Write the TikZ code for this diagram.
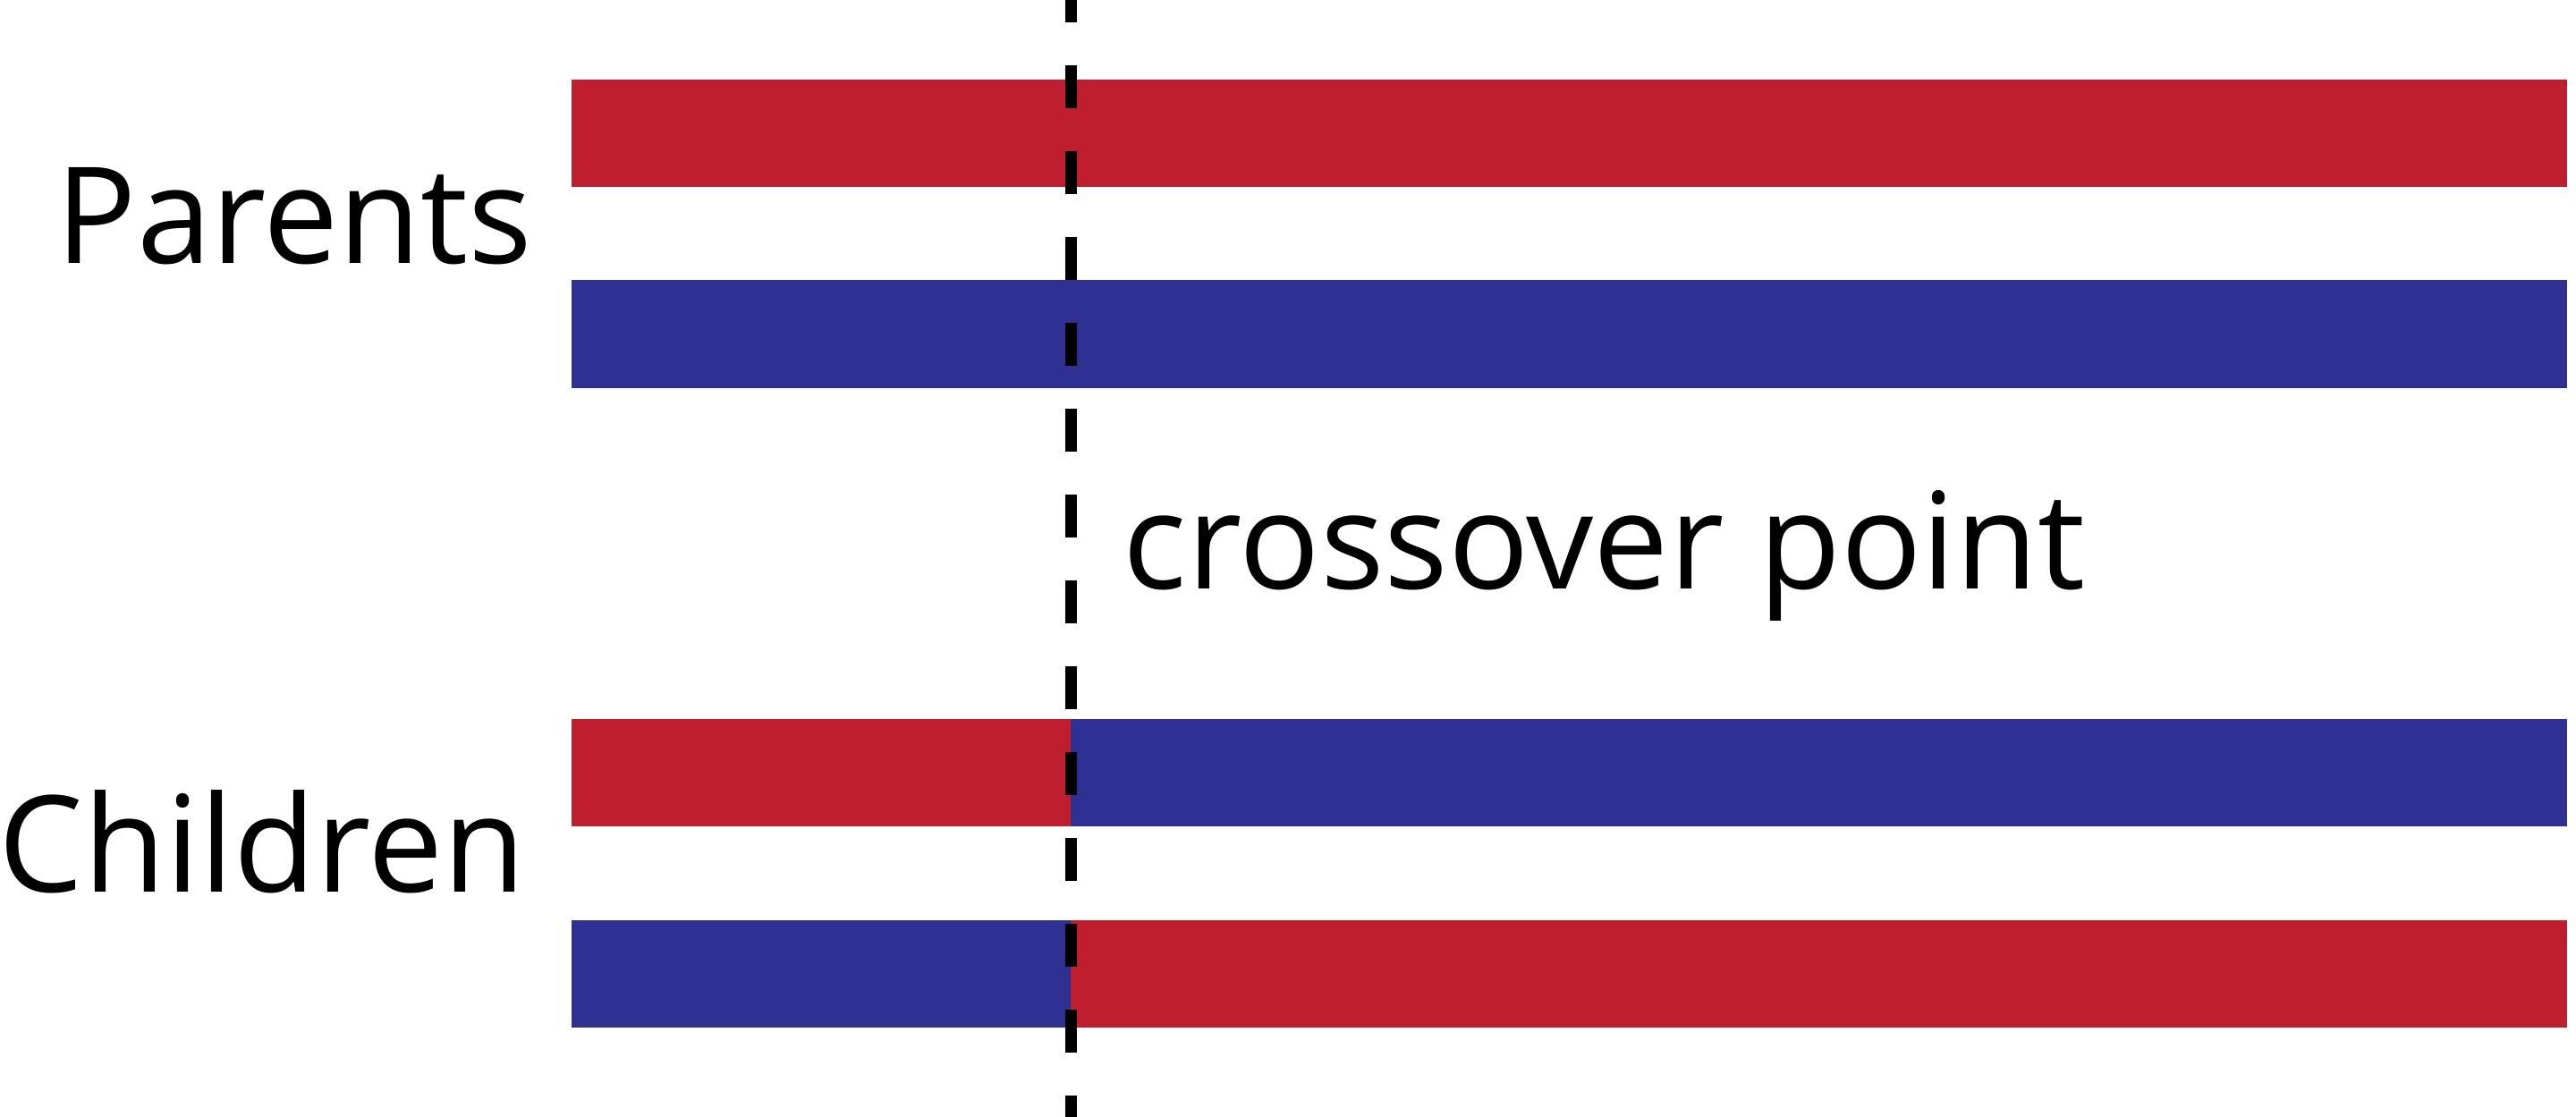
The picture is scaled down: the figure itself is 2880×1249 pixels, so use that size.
\documentclass[tikz,border=0pt]{standalone}
\usepackage{fontspec}
\setmainfont{Open Sans}
\usetikzlibrary{positioning}
\definecolor{chromred}{RGB}{190,30,45}
\definecolor{chromblue}{RGB}{46,49,146}

\begin{document}
\begin{tikzpicture}[
  x=0.25pt, y=-0.25pt,
  node distance=26pt and 0pt,
  bar/.style={rectangle, inner sep=0pt, outer sep=0pt, minimum height=30.125pt},
  fullbar/.style={bar, minimum width=557.75pt},
  headbar/.style={bar, minimum width=139.5pt},
  tailbar/.style={bar, minimum width=418.25pt},
  label/.style={inner sep=0pt, anchor=base west, font=\fontsize{37.5}{45}\selectfont},
  cut/.style={line width=3.125pt, dash pattern=on 12pt off 12pt, dash phase=5.75pt}
]
\useasboundingbox (0,0) rectangle (2880,1249);

% parents
\node[fullbar, fill=chromred, anchor=north west] (par1) at (639,88.7) {};
\node[fullbar, fill=chromblue, below=of par1] (par2) {};

% children
\node[headbar, fill=chromred, anchor=north west] (kid1a) at (639,804) {};
\node[tailbar, fill=chromblue, right=of kid1a] (kid1b) {};
\node[headbar, fill=chromblue, below=of kid1a] (kid2a) {};
\node[tailbar, fill=chromred, right=of kid2a] (kid2b) {};

\node[label] (parlabel) at (62,295) {Parents};
\node[label] (kidlabel) at (-2,997) {Children};
\node[label] (cutlabel) at (1255,659) {crossover point};

% crossover line
\coordinate (cuttop) at (1197.5,0);
\coordinate (cutbot) at (1197.5,1249);
\draw[cut] (cuttop) -- (cutbot);

\end{tikzpicture}
\end{document}
